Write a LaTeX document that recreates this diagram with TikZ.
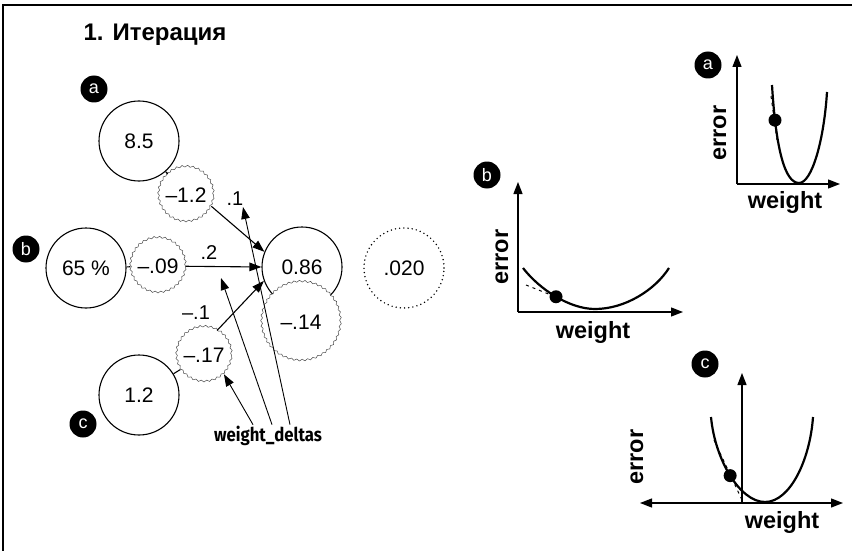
\documentclass[tikz,border=0pt]{standalone}
\usepackage{fontspec}
\setmainfont{Liberation Sans}
\newfontfamily\condfont{Fira Sans}
\usetikzlibrary{arrows.meta,decorations.pathmorphing}
\begin{document}
\begin{tikzpicture}[x=1pt,y=-1pt,
  every node/.style={font=\fontsize{21}{25}\selectfont},
  neuron/.style={circle,draw,fill=white,line width=1.1pt,minimum size=80pt,inner sep=0pt},
  delta/.style={circle,fill=white,minimum size=55pt,inner sep=0pt,draw=black!70,line width=0.5pt,
    decorate,decoration={snake,amplitude=0.9pt,segment length=5.5pt}},
  bigdelta/.style={delta,minimum size=79pt},
  outn/.style={circle,draw,dash pattern=on 0pt off 4.2pt,line cap=round,line width=1.6pt,minimum size=80pt,inner sep=0pt},
  lab/.style={circle,fill=black,text=white,minimum size=27pt,inner sep=0pt,font=\fontsize{18}{18}\selectfont},
  wlab/.style={font=\fontsize{20}{24}\selectfont},
  arr/.style={-{Triangle[length=12pt,width=8.5pt]},line width=1.1pt},
  wline/.style={-{Triangle[length=12pt,width=8.5pt]},line width=0.9pt},
  link/.style={line width=1.1pt},
  axis/.style={-{Triangle[length=12pt,width=9pt]},line width=1.3pt},
  curve/.style={line width=2.2pt},
  gdot/.style={circle,fill=black,minimum size=13pt,inner sep=0pt},
  axlab/.style={font=\bfseries\fontsize{23.5}{23.5}\selectfont},
  tang/.style={dash pattern=on 3pt off 4pt,line width=1pt}
]
\useasboundingbox (0,0) rectangle (855,551);
% frame
\draw[line width=1.6pt] (3,551) -- (3,5) -- (852,5);
% title
\node[font=\bfseries\fontsize{24}{28}\selectfont] (title) at (155,35) {1. Итерация};

% labels
\node[lab] (la) at (94,89) {a};
\node[lab] (lb) at (26,249) {b};
\node[lab] (lc) at (83,424) {c};

% neurons
\node[neuron] (n85) at (139,141) {8.5};
\node[neuron] (n65) at (86,268) {65 \%};
\node[neuron] (n12) at (139,395) {1.2};
\node[neuron] (h086) at (302,267) {0.86};
\node[outn] (o020) at (404,268) {.020};

% deltas
\node[delta] (d12) at (186,195) {–1.2};
\node[delta] (d09) at (158,266) {–.09};
\node[delta] (d17) at (204,355) {–.17};
\node[bigdelta] (d14) at (301,322) {–.14};

% links
\draw[link] (n85) -- (d12);
\draw[link] (n65) -- (d09);
\draw[link] (n12) -- (d17);

% weight labels
\node[wlab] (w1) at (235,199) {.1};
\node[wlab] (w2) at (209,253) {.2};
\node[wlab] (w3) at (196,313) {–.1};

% arrows into hidden neuron
\draw[arr] (d12.-24) -- (h086.158);
\draw[arr] (d09) -- (h086.180);
\draw[arr] (d17.62) -- (h086.200);

% weight_deltas
\node[font=\condfont\bfseries\fontsize{19}{19}\selectfont] (wd) at (268,436) {\scalebox{0.88}[1]{weight\_deltas}};
\coordinate (t1) at (243,207);
\coordinate (t2) at (221,278);
\draw[wline] ([xshift=-15pt,yshift=-2pt]wd.north) -- (d17.-44);
\draw[wline] ([xshift=4pt,yshift=-2pt]wd.north) -- (t2);
\draw[wline] ([xshift=22pt,yshift=-2pt]wd.north) -- (t1);

% ---------- graph a ----------
\node[lab] (ga) at (708,65) {a};
\coordinate (ao) at (737,184);
\draw[axis] (ao) -- (737,55);
\draw[axis] (ao) -- (840,184);
\node[axlab,rotate=90] (aerr) at (720,133) {error};
\node[axlab] (awt) at (785,202) {weight};
\draw[curve] (772,85) .. controls (776,150) and (785,183) .. (799,183) node[pos=0.2,gdot] (adot) {}
  .. controls (812,183) and (824,140) .. (827,92);
\draw[tang] (771,96) -- (777,140);

% ---------- graph b ----------
\node[lab] (gb) at (487,175) {b};
\coordinate (bo) at (518,312);
\draw[axis] (bo) -- (518,182);
\draw[axis] (bo) -- (683,312);
\node[axlab,rotate=90] (berr) at (502,257) {error};
\node[axlab] (bwt) at (593,332) {weight};
\draw[curve] (523,268) .. controls (540,290) and (570,309) .. (595,309) node[pos=0.5,gdot] (bdot) {}
  .. controls (625,309) and (655,290) .. (669,268);
\draw[tang] (526,285) -- (556,297);

% ---------- graph c ----------
\node[lab] (gc) at (705,364) {c};
\coordinate (co) at (742,503);
\draw[axis] (co) -- (742,373);
\draw[axis] (co) -- (843,503);
\draw[axis] (co) -- (640,503);
\node[axlab,rotate=90] (cerr) at (637,457) {error};
\node[axlab] (cwt) at (782,522) {weight};
\draw[curve] (711,417) .. controls (715,460) and (740,502) .. (765,502) node[pos=0.5,gdot] (cdot) {}
  .. controls (790,502) and (810,460) .. (813,417);
\draw[tang] (714,440) -- (742,500);
\end{tikzpicture}
\end{document}
